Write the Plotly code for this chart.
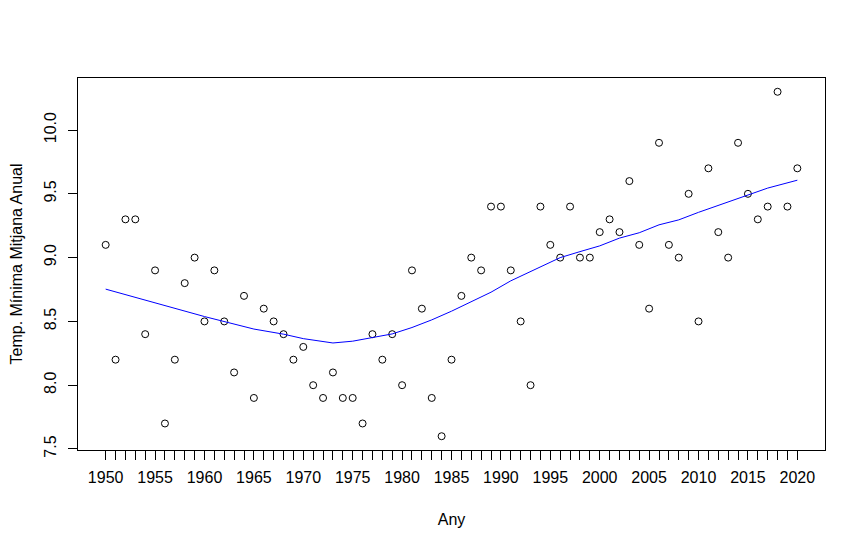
import plotly.graph_objects as go

years = list(range(1950, 2021))
temp_min = [
    9.1, 8.2, 9.3, 9.3, 8.4, 8.9, 7.7, 8.2, 8.8, 9.0,   # 1950-1959
    8.5, 8.9, 8.5, 8.1, 8.7, 7.9, 8.6, 8.5, 8.4, 8.2,   # 1960-1969
    8.3, 8.0, 7.9, 8.1, 7.9, 7.9, 7.7, 8.4, 8.2, 8.4,   # 1970-1979
    8.0, 8.9, 8.6, 7.9, 7.6, 8.2, 8.7, 9.0, 8.9, 9.4,   # 1980-1989
    9.4, 8.9, 8.5, 8.0, 9.4, 9.1, 9.0, 9.4, 9.0, 9.0,   # 1990-1999
    9.2, 9.3, 9.2, 9.6, 9.1, 8.6, 9.9, 9.1, 9.0, 9.5,   # 2000-2009
    8.5, 9.7, 9.2, 9.0, 9.9, 9.5, 9.3, 9.4, 10.3, 9.4,  # 2010-2019
    9.7,                                                # 2020
]

smooth_years = [1950, 1955, 1960, 1965, 1968, 1970, 1972, 1973, 1975, 1977,
                1979, 1981, 1983, 1985, 1987, 1989, 1991, 1993, 1995, 1996,
                1998, 2000, 2002, 2004, 2006, 2008, 2010, 2012, 2015, 2017, 2020]
smooth_vals = [8.753, 8.646, 8.538, 8.44, 8.40, 8.365, 8.34, 8.331, 8.345, 8.376,
               8.402, 8.452, 8.512, 8.58, 8.655, 8.729, 8.818, 8.89, 8.961, 9.0,
               9.047, 9.092, 9.153, 9.195, 9.257, 9.296, 9.355, 9.41, 9.495, 9.545, 9.607]

ytick_vals = [7.5, 8.0, 8.5, 9.0, 9.5, 10.0]
ytick_text = ["7.5", "8.0", "8.5", "9.0", "9.5", "10.0"]
xtick_text = [str(y) if y % 5 == 0 else "" for y in years]

FONT = "Liberation Sans, Arial, sans-serif"

fig = go.Figure()
fig.add_trace(go.Scatter(
    x=years, y=temp_min, mode="markers",
    marker=dict(symbol="circle-open", size=7, color="black", line=dict(width=1, color="black")),
    showlegend=False, hoverinfo="x+y",
))
fig.add_trace(go.Scatter(
    x=smooth_years, y=smooth_vals, mode="lines",
    line=dict(color="#0000FF", width=1),
    showlegend=False,
))

fig.update_layout(
    width=866, height=548,
    margin=dict(l=70, r=49, t=70, b=106, autoexpand=False),
    paper_bgcolor="white", plot_bgcolor="white",
    font=dict(family=FONT, size=16, color="black"),
    xaxis=dict(
        range=[1947.2, 2022.8], showgrid=False, zeroline=False,
        showline=True, linecolor="black", linewidth=1, mirror=True,
        tickmode="array", tickvals=years, ticktext=xtick_text,
        ticks="outside", ticklen=9, tickcolor="black", tickwidth=1,
        ticklabelstandoff=4,
        title=dict(text="Any", font=dict(size=16), standoff=28),
    ),
    yaxis=dict(
        range=[7.492, 10.408], showgrid=False, zeroline=False,
        showline=True, linecolor="black", linewidth=1, mirror=True,
        tickmode="array", tickvals=ytick_vals, ticktext=ytick_text,
        ticks="outside", ticklen=9, tickcolor="black", tickwidth=1,
        tickangle=-90, ticklabelstandoff=6,
        title=dict(text="Temp. Mínima Mitjana Anual", font=dict(size=16), standoff=19),
    ),
)

fig.write_html("out.html")
